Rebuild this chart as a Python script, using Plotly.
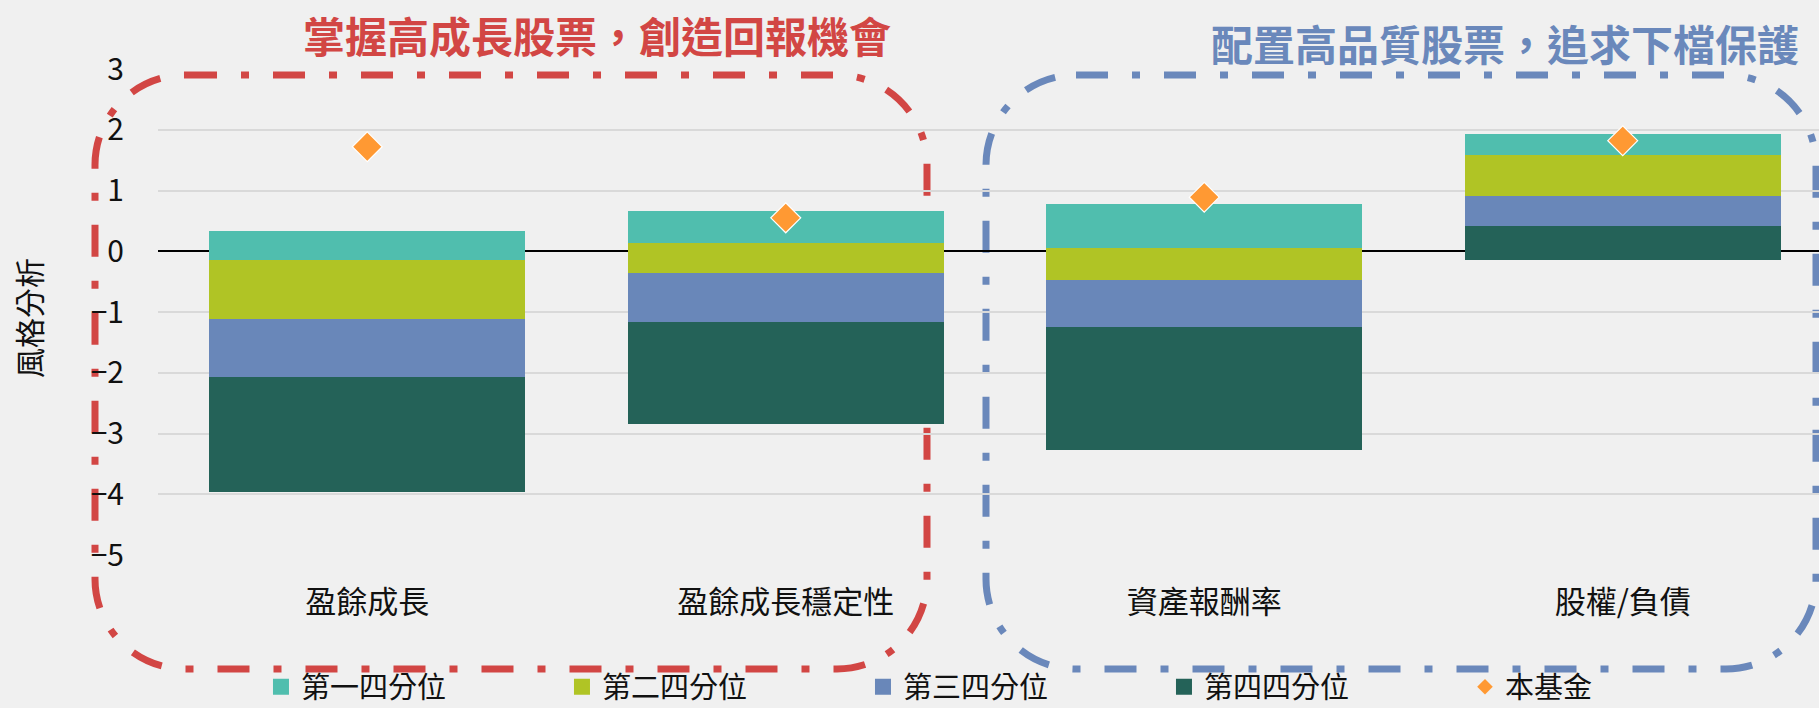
import plotly.graph_objects as go

# ---------------- data ----------------
categories = ["盈餘成長", "盈餘成長穩定性", "資產報酬率", "股權/負債"]
# segment boundaries (bottom -> top)
q4_bottom = [-3.97, -2.85, -3.27, -0.14]
q4_top = [-2.07, -1.16, -1.24, 0.42]
q3_top = [-1.11, -0.36, -0.48, 0.905]
q2_top = [-0.14, 0.14, 0.06, 1.59]
q1_top = [0.335, 0.66, 0.78, 1.93]
fund = [1.72, 0.55, 0.89, 1.82]

series_names = ["第一四分位", "第二四分位", "第三四分位", "第四四分位", "本基金"]
colors = ["#50BEAE", "#B0C425", "#6987B9", "#246258", "#FF9933"]
y_ticks = [3, 2, 1, 0, -1, -2, -3, -4, -5]
title_left = "掌握高成長股票，創造回報機會"
title_right = "配置高品質股票，追求下檔保護"
y_title = "風格分析"

FONT = "Noto Sans CJK TC"
W, H = 1819, 708
ML, MR, MT, MB = 158, 0, 69, 153
PW, PH = W - ML - MR, H - MT - MB

segments = [
    (series_names[0], colors[0], q2_top, q1_top),
    (series_names[1], colors[1], q3_top, q2_top),
    (series_names[2], colors[2], q4_top, q3_top),
    (series_names[3], colors[3], q4_bottom, q4_top),
]

fig = go.Figure()
for name, col, lo, hi in segments:
    fig.add_trace(go.Bar(
        x=categories, y=[h - l for l, h in zip(lo, hi)], base=lo,
        name=name, marker=dict(color=col, line=dict(width=0)),
        width=0.755, showlegend=False, hoverinfo="skip",
    ))

fig.add_trace(go.Scatter(
    x=categories, y=fund, mode="markers", name=series_names[4],
    marker=dict(symbol="diamond", size=23, color=colors[4],
                line=dict(color="white", width=1.2)),
    showlegend=False,
))

# legend entries
for i, name in enumerate(series_names):
    fig.add_trace(go.Scatter(
        x=[None], y=[None], mode="markers", name=name,
        marker=dict(symbol="diamond" if i == 4 else "square",
                    size=12 if i == 4 else 16, color=colors[i]),
        showlegend=True,
    ))


def px2paper(px, py):
    return (px - ML) / PW, (H - MB - py) / PH


def rounded_rect_path(x0, y0, x1, y1, r):
    k = 0.5523 * r

    def P(x, y):
        a, b = px2paper(x, y)
        return f"{a:.5f},{b:.5f}"
    d = f"M {P(x0 + r, y0)} L {P(x1 - r, y0)} "
    d += f"C {P(x1 - r + k, y0)} {P(x1, y0 + r - k)} {P(x1, y0 + r)} "
    d += f"L {P(x1, y1 - r)} "
    d += f"C {P(x1, y1 - r + k)} {P(x1 - r + k, y1)} {P(x1 - r, y1)} "
    d += f"L {P(x0 + r, y1)} "
    d += f"C {P(x0 + r - k, y1)} {P(x0, y1 - r + k)} {P(x0, y1 - r)} "
    d += f"L {P(x0, y0 + r)} "
    d += f"C {P(x0, y0 + r - k)} {P(x0 + r - k, y0)} {P(x0 + r, y0)} Z"
    return d


dash = "32px,24px,8px,24px"
fig.add_shape(type="path", xref="paper", yref="paper",
              path=rounded_rect_path(95, 75, 927, 669, 90),
              line=dict(color="#D24644", width=7, dash=dash), layer="between")
fig.add_shape(type="path", xref="paper", yref="paper",
              path=rounded_rect_path(986, 75, 1816, 669, 90),
              line=dict(color="#6A88BB", width=7, dash=dash), layer="between")

ax, ay = px2paper(597, 34)
fig.add_annotation(text=title_left, x=ax, y=ay, xref="paper", yref="paper",
                   showarrow=False, xanchor="center", yanchor="middle",
                   font=dict(family=FONT, size=42, color="#D24644", weight="bold"))
ax, ay = px2paper(1505, 43)
fig.add_annotation(text=title_right, x=ax, y=ay, xref="paper", yref="paper",
                   showarrow=False, xanchor="center", yanchor="middle",
                   font=dict(family=FONT, size=42, color="#6A88BB", weight="bold"))
ax, ay = px2paper(28, 318)
fig.add_annotation(text=y_title, x=ax, y=ay, xref="paper", yref="paper",
                   showarrow=False, xanchor="center", yanchor="middle", textangle=-90,
                   font=dict(family=FONT, size=30, color="#111111"))

fig.update_layout(
    width=W, height=H,
    margin=dict(l=ML, r=MR, t=MT, b=MB, autoexpand=False),
    paper_bgcolor="#F0F0F0", plot_bgcolor="#F0F0F0",
    barmode="overlay", bargap=0,
    font=dict(family=FONT, size=30, color="#111111"),
    showlegend=True,
    legend=dict(orientation="h", x=0.062, xanchor="left", y=-0.219, yanchor="top",
                entrywidth=256, entrywidthmode="pixels",
                font=dict(family=FONT, size=29, color="#111111"),
                bgcolor="rgba(0,0,0,0)", itemclick=False),
    xaxis=dict(type="category", range=[-0.5, 3.469], showgrid=False, zeroline=False,
               showline=False, ticks="", ticklabelstandoff=26,
               tickfont=dict(family=FONT, size=31, color="#111111")),
    yaxis=dict(range=[-5, 3], tickvals=y_ticks, showgrid=True, gridcolor="#D9D9D9",
               gridwidth=2, zeroline=True, zerolinecolor="#000000", zerolinewidth=2,
               showline=False, ticks="", ticklabelstandoff=33,
               tickfont=dict(family=FONT, size=30, color="#111111")),
)

fig.write_html(
    "out.html",
    config={"displayModeBar": False},
    post_script="document.body.style.margin='0';document.body.style.background='#F0F0F0';",
)
